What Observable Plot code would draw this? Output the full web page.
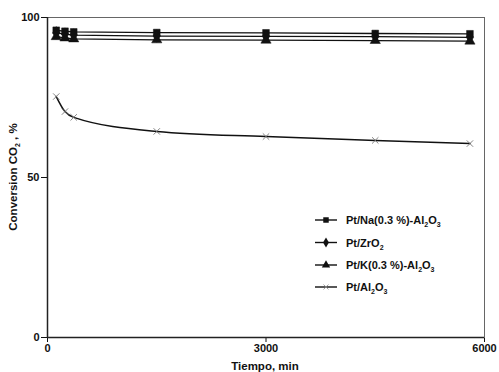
<!DOCTYPE html>
<html><head><meta charset="utf-8">
<script src="https://cdn.jsdelivr.net/npm/d3@7"></script>
<script src="https://cdn.jsdelivr.net/npm/@observablehq/plot@0.6"></script>
<style>body{margin:0;background:#fff}</style>
</head><body><div id="chart"></div>
<script>
// Data
const times = [120, 240, 360, 1500, 3000, 4500, 5800];
const naValues = [96.0, 95.7, 95.5, 95.3, 95.2, 95.0, 94.9];
const zrValues = [95.2, 94.8, 94.5, 94.2, 94.1, 94.0, 93.8];
const kValues = [94.0, 93.6, 93.3, 93.0, 92.9, 92.8, 92.6];
const alValues = [75.3, 70.6, 68.8, 64.4, 62.8, 61.6, 60.6];
const xTicks = [0, 3000, 6000];
const yTicks = [0, 50, 100];
const xTitle = "Tiempo, min";
const yTitleParts = ["Conversion CO", "2", " , %"];
const legendLabels = [
  [["Pt/Na(0.3 %)-Al", false], ["2", true], ["O", false], ["3", true]],
  [["Pt/ZrO", false], ["2", true]],
  [["Pt/K(0.3 %)-Al", false], ["2", true], ["O", false], ["3", true]],
  [["Pt/Al", false], ["2", true], ["O", false], ["3", true]]
];
const seriesKeys = ["Na", "Zr", "K", "Al"];
const seriesValues = [naValues, zrValues, kValues, alValues];
const seriesSymbols = ["square", "diamond", "triangle", "times"];

const rows = seriesKeys.map((k, s) => times.map((t, i) => ({series: k, t, v: seriesValues[s][i]})));

const font = "'Liberation Sans', Arial, sans-serif";
const chart = Plot.plot({
  width: 499, height: 372,
  marginLeft: 47, marginRight: 15, marginTop: 17, marginBottom: 35,
  style: {fontFamily: font, fontSize: "11px", fontWeight: "bold", color: "#111", background: "#fff"},
  x: {domain: [0, 6000], ticks: xTicks, tickFormat: d => String(d), tickSize: 5, tickPadding: 2, label: null},
  y: {domain: [0, 100], ticks: yTicks, tickFormat: d => String(d), tickSize: 6, tickPadding: 2, label: null},
  marks: [
    Plot.frame({stroke: "#666", strokeWidth: 1}),
    Plot.ruleX([0], {stroke: "#222", strokeWidth: 1.5}),
    Plot.ruleY([0], {stroke: "#222", strokeWidth: 1.5}),
    ...rows.slice(0, 3).map(r => Plot.line(r, {x: "t", y: "v", stroke: "#111", strokeWidth: 1.3})),
    Plot.line(rows[3], {x: "t", y: "v", stroke: "#111", strokeWidth: 1.5, curve: "monotone-x"}),
    ...rows.slice(0, 3).map((r, s) => Plot.dot(r, {x: "t", y: "v", symbol: seriesSymbols[s], r: 3.8, fill: "#111", stroke: "#111", strokeWidth: 0.5})),
    Plot.dot(rows[3], {x: "t", y: "v", symbol: "times", r: 3, stroke: "#777", strokeWidth: 0.9})
  ]
});
document.getElementById("chart").appendChild(chart);

const svg = d3.select(chart);
// axis titles
const yt = svg.append("text")
  .attr("transform", "translate(17,177) rotate(-90)")
  .attr("text-anchor", "middle")
  .style("font-family", font).style("font-size", "11.5px").style("font-weight", "bold").attr("fill", "#111");
yt.append("tspan").text(yTitleParts[0]);
yt.append("tspan").text(yTitleParts[1]).attr("dy", 3).style("font-size", "7px");
yt.append("tspan").text(yTitleParts[2]).attr("dy", -3);

svg.append("text").attr("x", 265).attr("y", 370).attr("text-anchor", "middle")
  .style("font-family", font).style("font-size", "11.5px").style("font-weight", "bold").attr("fill", "#111")
  .text(xTitle);

// legend
const legendY = [220, 242.5, 265, 287];
legendLabels.forEach((parts, i) => {
  const g = svg.append("g").attr("transform", `translate(0,${legendY[i]})`);
  g.append("line").attr("x1", 315).attr("x2", 337).attr("y1", 0).attr("y2", 0)
    .attr("stroke", "#111").attr("stroke-width", 1.4);
  const sym = {square: d3.symbolSquare, diamond: d3.symbolDiamond, triangle: d3.symbolTriangle, times: d3.symbolTimes}[seriesSymbols[i]];
  if (i < 3) {
    g.append("path").attr("transform", "translate(326,0)")
      .attr("d", d3.symbol(sym, 30)()).attr("fill", "#111");
  } else {
    g.append("path").attr("transform", "translate(326,0)")
      .attr("d", d3.symbol(sym, 18)()).attr("fill", "none").attr("stroke", "#888").attr("stroke-width", 0.8);
  }
  const t = g.append("text").attr("x", 346).attr("y", 4).attr("text-anchor", "start")
    .style("text-anchor", "start")
    .style("font-family", font).style("font-size", "11px").style("font-weight", "bold").attr("fill", "#111");
  let shifted = false;
  parts.forEach(([s, sub]) => {
    const ts = t.append("tspan").text(s);
    if (sub && !shifted) { ts.attr("dy", 3).style("font-size", "7px"); shifted = true; }
    else if (!sub && shifted) { ts.attr("dy", -3); shifted = false; }
    else if (sub) ts.style("font-size", "7px");
  });
});
</script>
</body></html>
